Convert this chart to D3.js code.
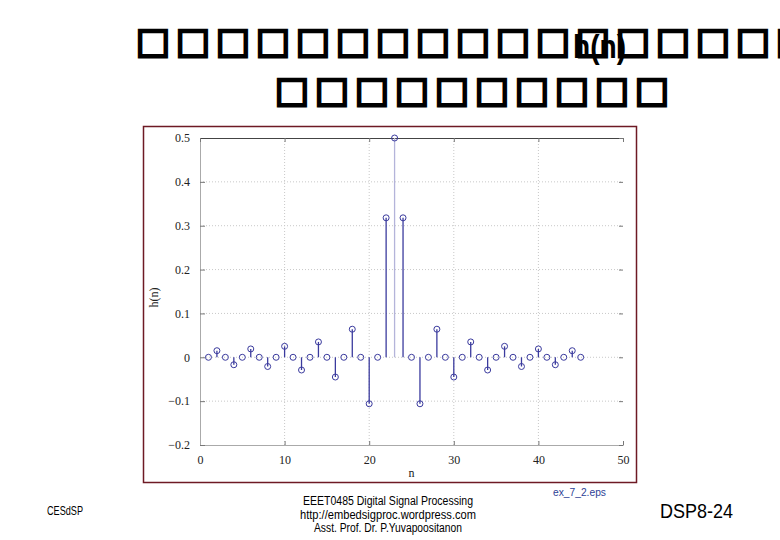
<!DOCTYPE html>
<html>
<head>
<meta charset="utf-8">
<script src="https://cdn.jsdelivr.net/npm/d3@7"></script>
<style>
  body { margin: 0; background: #fff; }
  svg { display: block; }
</style>
</head>
<body>
<div id="slide"></div>
<script>
// sample index and impulse response values
const nValues = [1, 2, 3, 4, 5, 6, 7, 8, 9, 10, 11, 12, 13, 14, 15, 16, 17, 18, 19, 20, 21, 22, 23,
                 24, 25, 26, 27, 28, 29, 30, 31, 32, 33, 34, 35, 36, 37, 38, 39, 40, 41, 42, 43, 44, 45];
const hValues = [0, 0.015, 0, -0.017, 0, 0.019, 0, -0.021, 0, 0.025, 0, -0.029, 0, 0.035, 0, -0.045,
                 0, 0.064, 0, -0.106, 0, 0.318, 0.5, 0.318, 0, -0.106, 0, 0.064, 0, -0.045, 0, 0.035,
                 0, -0.029, 0, 0.025, 0, -0.021, 0, 0.019, 0, -0.017, 0, 0.015, 0];
const xTicks = [0, 10, 20, 30, 40, 50];
const yTicks = [-0.2, -0.1, 0, 0.1, 0.2, 0.3, 0.4, 0.5];
const titleLine1 = '□□□□□□□□□□□□□□□□□';
const titleLine2 = '□□□□□□□□□□';
const footerLines = ['EEET0485 Digital Signal Processing', 'http://embedsigproc.wordpress.com', 'Asst. Prof. Dr. P.Yuvapoositanon'];
const footerWidths = [170, 176, 148];

const width = 780, height = 540;
const plot = { left: 200, right: 623, top: 138, bottom: 445 };
const stemColor = '#3b3b9e';

const svg = d3.select('#slide').append('svg')
    .attr('width', width)
    .attr('height', height);

// title (glyphs the slide font could not show)
const drawBoxes = (str, x0, baseline) => {
    svg.append('text')
        .attr('x', Array.from(str, (c, i) => x0 + i * 40).join(' '))
        .attr('y', baseline)
        .attr('font-family', 'DejaVu Sans, sans-serif')
        .attr('font-size', 36)
        .attr('fill', '#000')
        .attr('stroke', '#000')
        .attr('stroke-width', 2.5)
        .text(str);
};
drawBoxes(titleLine1, 136, 53);
drawBoxes(titleLine2, 275, 102);

svg.append('text')
    .attr('x', 573)
    .attr('y', 58)
    .attr('font-family', 'Liberation Sans, Arial, sans-serif')
    .attr('font-weight', 'bold')
    .attr('font-size', 34)
    .attr('textLength', 53)
    .attr('lengthAdjust', 'spacingAndGlyphs')
    .attr('fill', '#000')
    .text('h(n)');

// figure frame
svg.append('rect')
    .attr('x', 143.5).attr('y', 126.5)
    .attr('width', 493).attr('height', 356)
    .attr('fill', '#fff')
    .attr('stroke', '#6e1a24')
    .attr('stroke-width', 1.5);

const x = d3.scaleLinear().domain([0, 50]).range([plot.left, plot.right]);
const y = d3.scaleLinear().domain([-0.2, 0.5]).range([plot.bottom, plot.top]);

// dotted grid
const grid = svg.append('g')
    .attr('stroke', '#c8c8c8')
    .attr('stroke-dasharray', '1,2');
grid.selectAll('.gx')
    .data(xTicks.slice(1, -1))
    .enter().append('line')
    .attr('x1', d => x(d)).attr('x2', d => x(d))
    .attr('y1', plot.top).attr('y2', plot.bottom);
grid.selectAll('.gy')
    .data(yTicks.slice(1, -1))
    .enter().append('line')
    .attr('x1', plot.left).attr('x2', plot.right)
    .attr('y1', d => y(d)).attr('y2', d => y(d));

const serif = 'Liberation Serif, Times New Roman, serif';
const styleAxis = (g, col) => {
    g.select('.domain').attr('stroke', col);
    g.selectAll('.tick line').attr('stroke', '#777');
    g.selectAll('text')
        .attr('font-family', serif)
        .attr('font-size', 12)
        .attr('fill', '#222');
};

svg.append('g')
    .attr('transform', `translate(0,${plot.bottom})`)
    .call(d3.axisBottom(x).tickValues(xTicks).tickSize(-4).tickPadding(10).tickFormat(d3.format('d')))
    .call(g => styleAxis(g, '#aaa'));

svg.append('g')
    .attr('transform', `translate(${plot.left},0)`)
    .call(d3.axisLeft(y).tickValues(yTicks).tickSize(-5).tickPadding(10)
        .tickFormat(d => d === 0 ? '0' : d3.format('.1f')(d)))
    .call(g => styleAxis(g, '#aaa'));

svg.append('g')
    .attr('transform', `translate(0,${plot.top})`)
    .call(d3.axisTop(x).tickValues(xTicks).tickSize(-4).tickFormat(''))
    .call(g => styleAxis(g, '#444'));

svg.append('g')
    .attr('transform', `translate(${plot.right},0)`)
    .call(d3.axisRight(y).tickValues(yTicks).tickSize(-4).tickFormat(''))
    .call(g => styleAxis(g, 'none'));

// axis titles
svg.append('text')
    .attr('transform', `translate(158,${(plot.top + plot.bottom) / 2 + 6}) rotate(-90)`)
    .attr('text-anchor', 'middle')
    .attr('font-family', serif)
    .attr('font-size', 12)
    .attr('fill', '#222')
    .text('h(n)');

svg.append('text')
    .attr('x', (plot.left + plot.right) / 2)
    .attr('y', 477)
    .attr('text-anchor', 'middle')
    .attr('font-family', serif)
    .attr('font-size', 12)
    .attr('fill', '#222')
    .text('n');

// stems and markers
const pts = nValues.map((n, i) => ({ n: n, h: hValues[i] }));
const peak = d3.max(hValues);

svg.append('g').selectAll('line')
    .data(pts)
    .enter().append('line')
    .attr('x1', d => x(d.n)).attr('x2', d => x(d.n))
    .attr('y1', y(0)).attr('y2', d => y(d.h))
    .attr('stroke', d => d.h === peak ? '#b4b4da' : stemColor)
    .attr('stroke-width', 1.3);

svg.append('g').selectAll('circle')
    .data(pts)
    .enter().append('circle')
    .attr('cx', d => x(d.n))
    .attr('cy', d => y(d.h))
    .attr('r', 3)
    .attr('fill', 'none')
    .attr('stroke', stemColor)
    .attr('stroke-width', 1);

// footer
const sans = 'Liberation Sans, Arial, sans-serif';
svg.append('text')
    .attr('x', 553).attr('y', 496)
    .attr('font-family', sans)
    .attr('font-size', 11)
    .attr('textLength', 53)
    .attr('lengthAdjust', 'spacingAndGlyphs')
    .attr('fill', '#2e3f96')
    .text('ex_7_2.eps');

svg.append('text')
    .attr('x', 47).attr('y', 515)
    .attr('font-family', sans)
    .attr('font-size', 12.5)
    .attr('textLength', 36)
    .attr('lengthAdjust', 'spacingAndGlyphs')
    .attr('fill', '#000')
    .text('CESdSP');

svg.append('g').selectAll('text')
    .data(footerLines)
    .enter().append('text')
    .attr('x', (d, i) => 388 - footerWidths[i] / 2)
    .attr('y', (d, i) => 505 + i * 13.5)
    .attr('font-family', sans)
    .attr('font-size', 12.5)
    .attr('textLength', (d, i) => footerWidths[i])
    .attr('lengthAdjust', 'spacingAndGlyphs')
    .attr('fill', '#000')
    .text(d => d);

svg.append('text')
    .attr('x', 660).attr('y', 518)
    .attr('font-family', sans)
    .attr('font-size', 21)
    .attr('textLength', 73)
    .attr('lengthAdjust', 'spacingAndGlyphs')
    .attr('fill', '#000')
    .text('DSP8-24');
</script>
</body>
</html>
